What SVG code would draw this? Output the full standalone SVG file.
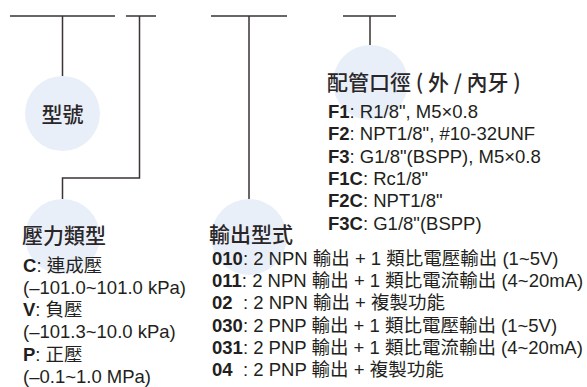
<svg xmlns="http://www.w3.org/2000/svg" width="587" height="387" viewBox="0 0 587 387">
<style>
.bg{fill:#ffffff}
.c{fill:#e9eff9}
.ln{fill:none;stroke:#3a3434;stroke-width:1.5}
.h{font-family:"Noto Sans CJK TC","Noto Sans CJK SC",sans-serif;font-size:21px;fill:#2a2627;font-weight:500}
.t{font-family:"Liberation Sans","Noto Sans CJK TC",sans-serif;font-size:18.5px;fill:#231f20}
.b{font-weight:bold}
</style>
<rect class="bg" x="0" y="0" width="587" height="387"/>
<g id="connectors">
<path class="ln" d="M10 16H115M62.5 16V76"/>
<path class="ln" d="M126 16H156M139.5 16V178H62.5V199"/>
<path class="ln" d="M211 16H287M249 16V199"/>
<path class="ln" d="M343 16H396M370 16V45"/>
</g>
<g id="node-model">
<circle class="c" cx="62.5" cy="113.5" r="37.5"/>
<text class="h" x="62.5" y="122" text-anchor="middle">型號</text>
</g>
<g id="node-pressure">
<circle class="c" cx="62.5" cy="236.5" r="37.5"/>
<text class="h" x="22" y="243">壓力類型</text>
<text class="t" x="23" y="272"><tspan class="b">C</tspan>: 連成壓</text>
<text class="t" x="23" y="294">(–101.0~101.0 kPa)</text>
<text class="t" x="23" y="316"><tspan class="b">V</tspan>: 負壓</text>
<text class="t" x="23" y="338">(–101.3~10.0 kPa)</text>
<text class="t" x="23" y="361"><tspan class="b">P</tspan>: 正壓</text>
<text class="t" x="23" y="383">(–0.1~1.0 MPa)</text>
</g>
<g id="node-output">
<circle class="c" cx="249" cy="237" r="38"/>
<text class="h" x="209" y="242">輸出型式</text>
<text class="t" x="212" y="265"><tspan class="b">010</tspan>: 2 NPN 輸出 + 1 類比電壓輸出 (1~5V)</text>
<text class="t" x="212" y="287"><tspan class="b">011</tspan>: 2 NPN 輸出 + 1 類比電流輸出 (4~20mA)</text>
<text class="t" x="212" y="309"><tspan class="b">02</tspan> <tspan x="243">: 2 NPN 輸出 + 複製功能</tspan></text>
<text class="t" x="212" y="332"><tspan class="b">030</tspan>: 2 PNP 輸出 + 1 類比電壓輸出 (1~5V)</text>
<text class="t" x="212" y="354"><tspan class="b">031</tspan>: 2 PNP 輸出 + 1 類比電流輸出 (4~20mA)</text>
<text class="t" x="212" y="376"><tspan class="b">04</tspan> <tspan x="243">: 2 PNP 輸出 + 複製功能</tspan></text>
</g>
<g id="node-port">
<circle class="c" cx="370.5" cy="82.5" r="37.5"/>
<text class="h" x="327" y="90">配管口徑 ( 外 / 內牙 )</text>
<text class="t" x="328" y="118"><tspan class="b">F1</tspan>: R1/8", M5×0.8</text>
<text class="t" x="328" y="140"><tspan class="b">F2</tspan>: NPT1/8", #10-32UNF</text>
<text class="t" x="328" y="163"><tspan class="b">F3</tspan>: G1/8"(BSPP), M5×0.8</text>
<text class="t" x="328" y="185"><tspan class="b">F1C</tspan>: Rc1/8"</text>
<text class="t" x="328" y="207"><tspan class="b">F2C</tspan>: NPT1/8"</text>
<text class="t" x="328" y="230"><tspan class="b">F3C</tspan>: G1/8"(BSPP)</text>
</g>
</svg>
